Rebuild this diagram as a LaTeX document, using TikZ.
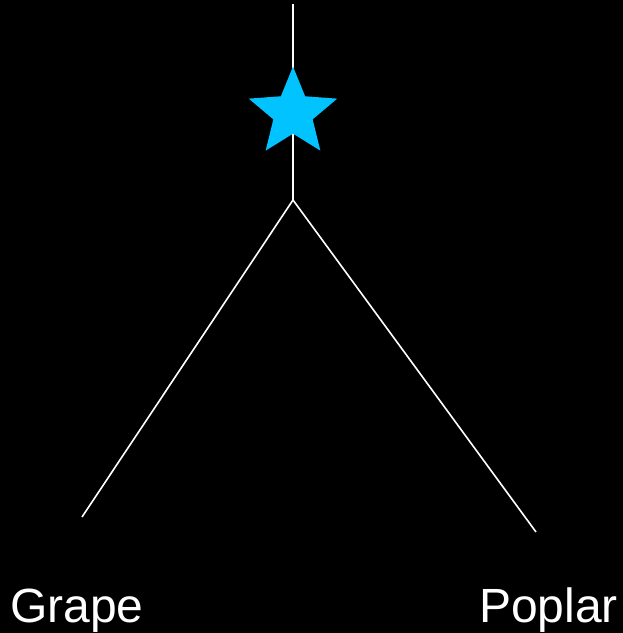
\documentclass[tikz,border=0pt]{standalone}
\usepackage{fontspec}
\setmainfont{Liberation Sans}
\usepackage{tikz}
\usetikzlibrary{shapes.geometric}
\definecolor{Cs}{RGB}{0,195,255}
\definecolor{Cw}{RGB}{255,255,255}

\begin{document}
\begin{tikzpicture}[x=1pt,y=-1pt,
    branch/.style={draw=Cw,line width=1.6pt},
    leaf/.style={Cw,anchor=base west,inner sep=0pt,font=\fontsize{48}{52}\selectfont}]
    \fill[black] (0,0) rectangle (623,633);
    \useasboundingbox (0,0) rectangle (623,633);
    % tree
    \coordinate (top) at (293,4);
    \coordinate (root) at (293,200);
    \coordinate (grapeend) at (82,517);
    \coordinate (poplarend) at (536,532);
    \draw[branch] (top) -- (root);
    \draw[branch] (root) -- (grapeend);
    \draw[branch] (root) -- (poplarend);
    % mark on the stem
    \node[star,star points=5,star point ratio=2.25,minimum size=93pt,
      inner sep=0pt,fill=Cs] (mark) at (293,113) {};
    % labels
    \node[leaf] (grape) at (10,622) {Grape};
    \node[leaf] (poplar) at (479,622) {Poplar};
\end{tikzpicture}
\end{document}
